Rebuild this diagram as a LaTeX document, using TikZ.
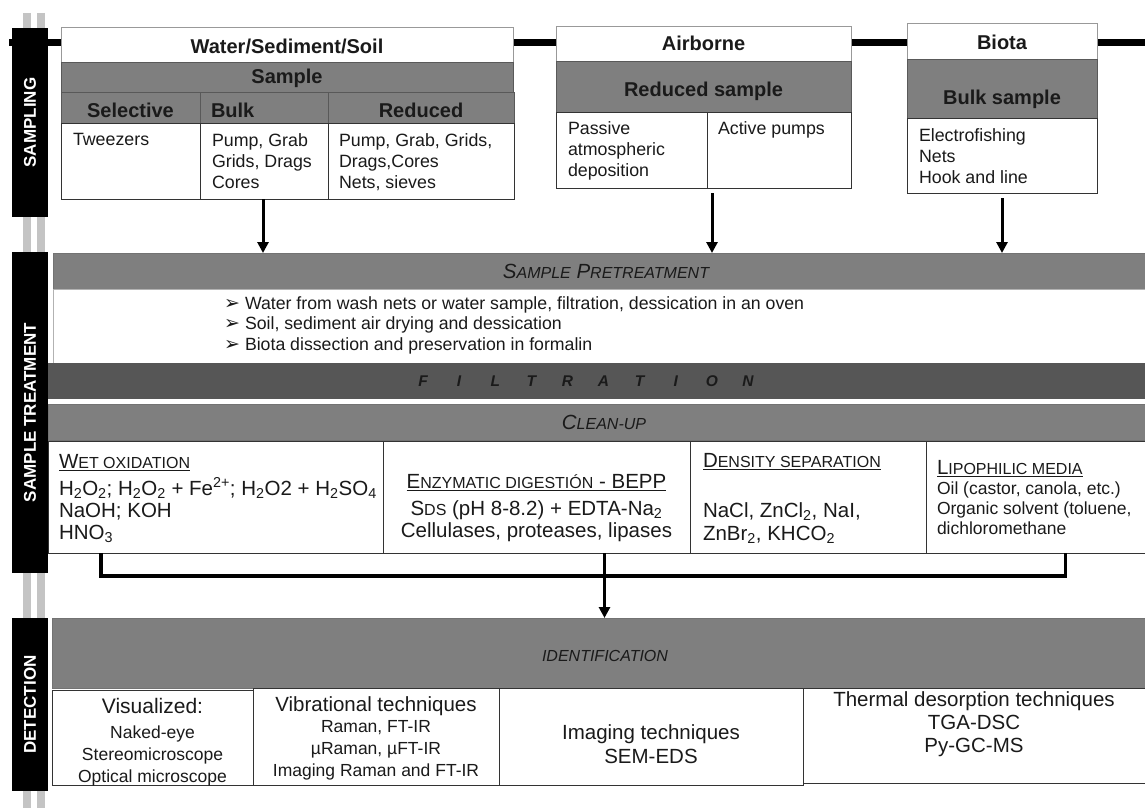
\documentclass[tikz,border=0pt]{standalone}
\usepackage{fontspec}
\setmainfont{Liberation Sans}
\newfontfamily\dejavu{DejaVu Sans}
\usetikzlibrary{arrows.meta,fit}
\definecolor{midgray}{HTML}{7F7F7F}
\definecolor{filtgray}{HTML}{565656}
\definecolor{railgray}{HTML}{C4C4C4}
\definecolor{txtdark}{HTML}{1A1A1A}
\newcommand\fsz[2]{\fontsize{#1}{#2}\selectfont}
\newcommand\smc[1]{{\fontsize{16}{16}\selectfont #1}}
\newcommand\bul{\makebox[21pt][l]{\dejavu\fontsize{19}{19}\selectfont ➢}}
\newcommand\uline[1]{\setbox0\hbox{#1}\rlap{\rule[-3pt]{\wd0}{1.3pt}}\box0}
\newcommand\lbx[1]{\makebox[36.1pt]{#1}}
\begin{document}
\begin{tikzpicture}[x=1pt,y=-1pt,
 every node/.style={inner sep=0pt,outer sep=0pt, text=txtdark},
 hdrbox/.style={draw=black!40, fill=white, line width=1pt},
 grayrow/.style={draw=black!65, fill=midgray, line width=1pt},
 cellbox/.style={draw=black!80, fill=white, line width=1pt},
 bandbox/.style={draw=black!55, fill=midgray, line width=0.8pt},
 blkbox/.style={fill=black},
 vlab/.style={rotate=90, text=white, font=\bfseries\fsz{17}{20}},
 boldtxt/.style={anchor=base, font=\bfseries\fsz{20}{24}},
 bodytxt/.style={anchor=north west, align=left, font=\fsz{17.8}{21}},
 bigtxt/.style={font=\fsz{20.5}{24}},
 smalltxt/.style={font=\fsz{17.5}{21}},
 arr/.style={line width=3pt, -{Triangle[length=11pt,width=11pt]}},
 brk/.style={line width=3.5pt},
 rail/.style={draw=railgray, line width=8pt},
]
\useasboundingbox (0,0) rectangle (1145,808);
\fill[white] (0,0) rectangle (1145,808);

% rails and top line
\coordinate (r1a) at (27,13); \coordinate (r1b) at (27,808);
\coordinate (r2a) at (41,13); \coordinate (r2b) at (41,808);
\draw[rail] (r1a) -- (r1b);
\draw[rail] (r2a) -- (r2b);
\coordinate (tl0) at (9,43); \coordinate (tl1) at (1145,43);
\draw[line width=7pt] (tl0) -- (tl1);

% black stage boxes
\node[blkbox, fit={(12,28)(48,217)}] (samp) {};
\node[vlab] (sampT) at (samp.center) {SAMPLING};
\node[blkbox, fit={(12,252)(48,573)}] (treat) {};
\node[vlab] (treatT) at (treat.center) {SAMPLE TREATMENT};
\node[blkbox, fit={(12,618)(48,791)}] (det) {};
\node[vlab] (detT) at (det.center) {DETECTION};

% Water/Sediment/Soil
\node[hdrbox, fit={(61,28)(513,63)}] (wss) {};
\node[boldtxt] (wssT) at (287,53) {Water/Sediment/Soil};
\node[grayrow, fit={(61,63)(513,92)}] (wsss) {};
\node[boldtxt] (wsssT) at (287,84) {Sample};
\node[grayrow, fit={(61,92)(200,123)}] (selh) {};
\node[boldtxt] (selT) at (130.5,117) {Selective};
\node[grayrow, fit={(200,92)(328,123)}] (bulkh) {};
\node[boldtxt, anchor=base west] (bulkT) at (211,117) {Bulk};
\node[grayrow, fit={(328,92)(514,123)}] (redh) {};
\node[boldtxt] (redT) at (421,117) {Reduced};
\node[cellbox, fit={(61,123)(200,199)}] (selc) {};
\node[cellbox, fit={(200,123)(328,199)}] (bulkc) {};
\node[cellbox, fit={(328,123)(514,199)}] (redc) {};
\node[bodytxt] (selB) at (73,133.5) {Tweezers};
\node[bodytxt] (bulkB) at (212,133.5) {Pump, Grab\\Grids, Drags\\Cores};
\node[bodytxt] (redB) at (339,133.5) {Pump, Grab, Grids,\\Drags,Cores\\Nets, sieves};

% Airborne
\node[hdrbox, fit={(556,27)(851,62)}] (air) {};
\node[boldtxt] (airT) at (703.5,51) {Airborne};
\node[grayrow, fit={(556,62)(851,112)}] (airr) {};
\node[boldtxt] (airrT) at (703.5,96) {Reduced sample};
\node[cellbox, fit={(556,112)(707,188)}] (air1) {};
\node[cellbox, fit={(707,112)(851,188)}] (air2) {};
\node[bodytxt] (air1B) at (568,122) {Passive\\atmospheric\\deposition};
\node[bodytxt] (air2B) at (718,122) {Active pumps};

% Biota
\node[hdrbox, fit={(907,24)(1097,60)}] (bio) {};
\node[boldtxt] (bioT) at (1002,50) {Biota};
\node[grayrow, fit={(907,60)(1097,118)}] (biob) {};
\node[boldtxt] (biobT) at (1002,104) {Bulk sample};
\node[cellbox, fit={(907,118)(1097,193)}] (bioc) {};
\node[bodytxt] (biocB) at (919,128.5) {Electrofishing\\Nets\\Hook and line};

% pretreatment
\node[bandbox, fit={(53,253)(1145,289)}] (pre) {};
\node[anchor=base, font=\itshape\fsz{20.5}{24}] (preT) at (606,278.3) {S\smc{AMPLE} P\smc{RETREATMENT}};
\node[draw=black!30, fill=white, line width=0.8pt, fit={(53,289)(1145,363)}] (prew) {};
\node[bodytxt, font=\fsz{17.7}{20.5}] (preB) at (224,296.5) {\bul Water from wash nets or water sample, filtration, dessication in an oven\\\bul Soil, sediment air drying and dessication\\\bul Biota dissection and preservation in formalin};

% filtration
\node[fill=filtgray, fit={(48,363)(1145,399)}] (filt) {};
\node[anchor=base, font=\bfseries\itshape\fsz{15.5}{18}] (filtT) at (585.5,386.6) {\lbx{F}\lbx{I}\lbx{L}\lbx{T}\lbx{R}\lbx{A}\lbx{T}\lbx{I}\lbx{O}\lbx{N}};

% clean-up
\node[bandbox, fit={(48,404)(1145,440)}] (clean) {};
\node[anchor=base, font=\itshape\fsz{20.5}{24}] (cleanT) at (604,429.3) {C\smc{LEAN-UP}};
\node[cellbox, fit={(48,441)(383,553)}] (wet) {};
\node[cellbox, fit={(383,441)(690,553)}] (enz) {};
\node[cellbox, fit={(690,441)(926,553)}] (dens) {};
\node[cellbox, fit={(926,441)(1145,553)}] (lipo) {};

\node[bigtxt, anchor=base west] (wet0) at (59,468.3) {\uline{W\smc{ET OXIDATION}}};
\node[bigtxt, anchor=base west] (wet1) at (59,495.3) {H\textsubscript{2}O\textsubscript{2}; H\textsubscript{2}O\textsubscript{2} + Fe\textsuperscript{2+}; H\textsubscript{2}O2 + H\textsubscript{2}SO\textsubscript{4}};
\node[bigtxt, anchor=base west] (wet2) at (59,517.3) {NaOH; KOH};
\node[bigtxt, anchor=base west] (wet3) at (59,539.3) {HNO\textsubscript{3}};

\node[bigtxt, anchor=base] (enz0) at (536.5,488.3) {\uline{E\smc{NZYMATIC DIGESTIÓN} - BEPP}};
\node[bigtxt, anchor=base] (enz1) at (536.5,515.3) {S\smc{DS} (pH 8-8.2) + EDTA-Na\textsubscript{2}};
\node[bigtxt, anchor=base] (enz2) at (536.5,537.3) {Cellulases, proteases, lipases};

\node[bigtxt, anchor=base west] (dens0) at (703,467.3) {\uline{D\smc{ENSITY SEPARATION}}};
\node[bigtxt, anchor=base west] (dens1) at (703,517.3) {NaCl, ZnCl\textsubscript{2}, NaI,};
\node[bigtxt, anchor=base west] (dens2) at (703,540.3) {ZnBr\textsubscript{2}, KHCO\textsubscript{2}};

\node[bigtxt, anchor=base west] (lipo0) at (937,474) {\uline{L\smc{IPOPHILIC MEDIA}}};
\node[smalltxt, anchor=base west] (lipo1) at (937,494.3) {Oil (castor, canola, etc.)};
\node[smalltxt, anchor=base west] (lipo2) at (937,514.3) {Organic solvent (toluene,};
\node[smalltxt, anchor=base west] (lipo3) at (937,534.3) {dichloromethane};

% identification
\node[bandbox, fit={(52,618)(1145,688)}] (ident) {};
\node[anchor=base, font=\itshape\fsz{16}{20}] (identT) at (605,661.7) {IDENTIFICATION};
\node[cellbox, fit={(52,690)(253,785)}] (vis) {};
\node[cellbox, fit={(253,688)(499,785)}] (vib) {};
\node[cellbox, fit={(499,688)(803,785)}] (img) {};
\node[cellbox, fit={(803,688)(1145,783)}] (thr) {};

\node[anchor=base, font=\fsz{21}{24}] (vis0) at (152.5,713) {Visualized:};
\node[smalltxt, anchor=base] (vis1) at (152.5,738.3) {Naked-eye};
\node[smalltxt, anchor=base] (vis2) at (152.5,760.3) {Stereomicroscope};
\node[smalltxt, anchor=base] (vis3) at (152.5,782.3) {Optical microscope};

\node[bigtxt, anchor=base] (vib0) at (376,711.3) {Vibrational techniques};
\node[smalltxt, anchor=base] (vib1) at (376,732.3) {Raman, FT-IR};
\node[smalltxt, anchor=base] (vib2) at (376,754.3) {µRaman, µFT-IR};
\node[smalltxt, anchor=base] (vib3) at (376,776.3) {Imaging Raman and FT-IR};

\node[bigtxt, anchor=base] (img0) at (651,739.3) {Imaging techniques};
\node[bigtxt, anchor=base] (img1) at (651,763.3) {SEM-EDS};

\node[bigtxt, anchor=base] (thr0) at (974,706.3) {Thermal desorption techniques};
\node[bigtxt, anchor=base] (thr1) at (974,729.3) {TGA-DSC};
\node[bigtxt, anchor=base] (thr2) at (974,752.3) {Py-GC-MS};

% connectors
\draw[arr] ([xshift=-1pt]bulkc.south) -- ([xshift=-1pt]bulkc.south |- pre.north);
\draw[arr] ([xshift=5pt,yshift=-5pt]air2.south west) -- ([xshift=5pt]air2.south west |- pre.north);
\draw[arr] ([yshift=-5pt]bioc.south) -- (bioc.south |- pre.north);
\coordinate (bl) at ([xshift=-114.5pt]wet.south);
\coordinate (br) at ([xshift=30pt]lipo.south);
\draw[brk] (bl) -- ++(0,23) -| (br);
\draw[arr] ([xshift=68pt]enz.south) -- ([xshift=68pt]enz.south |- ident.north);
\end{tikzpicture}
\end{document}
